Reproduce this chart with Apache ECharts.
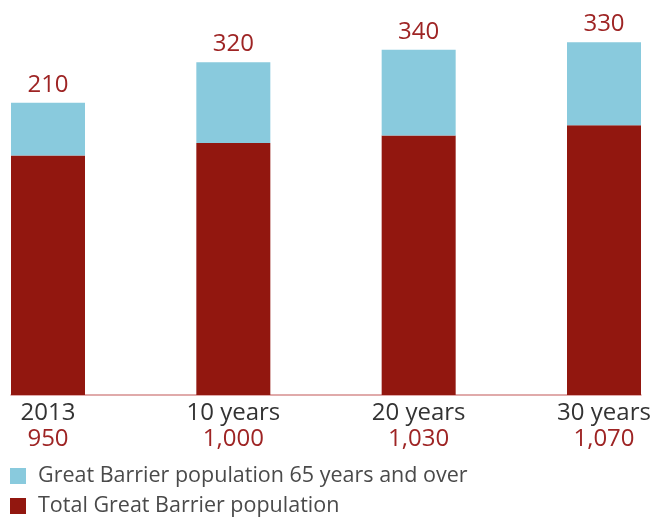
<!DOCTYPE html>
<html>
<head>
<meta charset="utf-8">
<script src="https://cdn.jsdelivr.net/npm/echarts@6/dist/echarts.min.js"></script>
<style>
html,body{margin:0;padding:0;background:#fff;}
#chart{width:662px;height:522px;}
</style>
</head>
<body>
<div id="chart"></div>
<script>
const categories = ['2013', '10 years', '20 years', '30 years'];
const totalPopulation = [950, 1000, 1030, 1070];
const over65Population = [210, 320, 340, 330];
const seriesNames = ['Great Barrier population 65 years and over', 'Total Great Barrier population'];

const RED = '#92170f';
const BLUE = '#89cadd';
const LABEL_RED = '#9e2424';
const FONT = '"Open Sans", "Noto Sans", sans-serif';

function fmt(n) {
  return String(n).replace(/\B(?=(\d{3})+(?!\d))/g, ',');
}

const chart = echarts.init(document.getElementById('chart'), null, {renderer: 'canvas'});
chart.setOption({
  animation: false,
  textStyle: {fontFamily: FONT},
  grid: [
    {left: 48, right: 58, top: 17, bottom: 127},
    {left: 11, right: 21, top: 17, bottom: 127}
  ],
  legend: {
    orient: 'vertical',
    left: 10,
    top: 465,
    height: 120,
    padding: 0,
    itemWidth: 16,
    itemHeight: 16,
    itemGap: 8,
    icon: 'rect',
    data: seriesNames,
    textStyle: {fontFamily: FONT, fontSize: 21.5, lineHeight: 22, color: '#4a4a4a', padding: [0, 0, 0, 7]}
  },
  xAxis: [
    {
      type: 'category',
      gridIndex: 0,
      data: categories,
      boundaryGap: false,
      axisLine: {show: false},
      axisTick: {show: false},
      axisLabel: {
        margin: 5,
        interval: 0,
        formatter: function (v, i) {
          return '{a|' + v + '}\n{b|' + fmt(totalPopulation[i]) + '}';
        },
        rich: {
          a: {fontFamily: FONT, fontSize: 24, lineHeight: 26, color: '#333'},
          b: {fontFamily: FONT, fontSize: 24, lineHeight: 26, color: LABEL_RED}
        }
      }
    },
    {
      type: 'value',
      gridIndex: 1,
      min: 0,
      max: 1,
      axisLine: {show: true, lineStyle: {color: '#d68f8f', width: 1.5}},
      axisTick: {show: false},
      axisLabel: {show: false},
      splitLine: {show: false}
    }
  ],
  yAxis: [
    {type: 'value', gridIndex: 0, min: 0, max: 1500, show: false},
    {type: 'value', gridIndex: 1, min: 0, max: 1500, show: false}
  ],
  series: [
    {
      name: seriesNames[1],
      type: 'bar',
      stack: 'pop',
      xAxisIndex: 0,
      yAxisIndex: 0,
      barWidth: 74,
      data: totalPopulation,
      itemStyle: {color: RED},
      z: 3
    },
    {
      name: seriesNames[0],
      type: 'bar',
      stack: 'pop',
      xAxisIndex: 0,
      yAxisIndex: 0,
      barWidth: 74,
      data: over65Population,
      itemStyle: {color: BLUE},
      label: {
        show: true,
        position: 'top',
        distance: 6,
        fontFamily: FONT,
        fontSize: 24,
        color: LABEL_RED
      },
      z: 3
    }
  ]
});
</script>
</body>
</html>
